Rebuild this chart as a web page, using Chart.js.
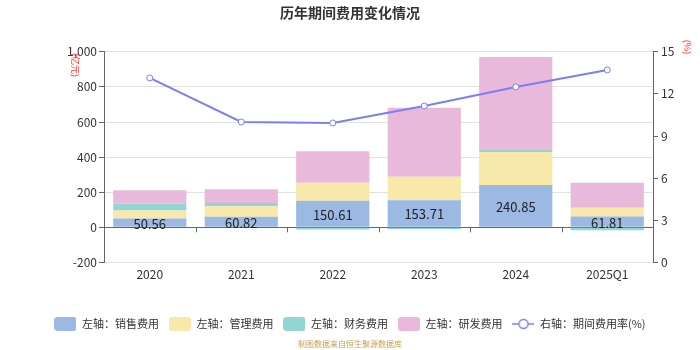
<!DOCTYPE html>
<html>
<head>
<meta charset="utf-8">
<script src="https://cdn.jsdelivr.net/npm/chart.js@4/dist/chart.umd.min.js"></script>
<style>
  html, body { margin: 0; padding: 0; background: #fff; }
  #wrap { width: 700px; height: 350px; }
</style>
</head>
<body>
<div id="wrap"><canvas id="feeChart" width="700" height="350"></canvas></div>
<script>
// 历年期间费用 (亿元) and 期间费用率 (%)
const years = ["2020", "2021", "2022", "2023", "2024", "2025Q1"];
const salesFee = [50.56, 60.82, 150.61, 153.71, 240.85, 61.81];
const adminFee = [45, 59, 103, 135, 188, 49];
const financeFee = [39, 19, -12, -11, 11, -17];
const rdFee = [76, 78, 180, 392, 530, 143];
const feeRate = [13.14, 10.0, 9.93, 11.14, 12.5, 13.71];
const leftTicks = [-200, 1000, 200];
const rightTicks = [0, 15, 3];

Chart.defaults.font.family = '"Microsoft YaHei", "Noto Sans CJK SC", sans-serif';
Chart.defaults.color = '#333';

// legend swatches
function swatch(color) {
  const c = document.createElement('canvas');
  c.width = 22; c.height = 14;
  const g = c.getContext('2d');
  g.fillStyle = color;
  g.beginPath();
  g.roundRect(0, 0, 22, 14, 3);
  g.fill();
  return c;
}
function lineSwatch(color) {
  const c = document.createElement('canvas');
  c.width = 22; c.height = 14;
  const g = c.getContext('2d');
  g.strokeStyle = color;
  g.lineWidth = 1.5;
  g.beginPath(); g.moveTo(0, 7); g.lineTo(22, 7); g.stroke();
  g.fillStyle = '#fff';
  g.beginPath(); g.arc(11, 7, 4.5, 0, Math.PI * 2); g.fill(); g.stroke();
  return c;
}

const extras = {
  id: 'extras',
  afterDatasetsDraw(chart) {
    const ctx = chart.ctx;
    const x = chart.scales.x, y = chart.scales.y;
    const y0 = y.getPixelForValue(0);
    ctx.save();
    // ticks on the zero line between categories
    ctx.strokeStyle = '#666';
    ctx.lineWidth = 1;
    for (let i = 0; i <= years.length; i++) {
      const px = Math.round(x.getPixelForValue(i - 0.5)) + 0.5;
      ctx.beginPath(); ctx.moveTo(px, y0); ctx.lineTo(px, y0 + 5); ctx.stroke();
    }
    // sales value labels
    ctx.fillStyle = '#222';
    ctx.font = '13px "Microsoft YaHei", "Noto Sans CJK SC", sans-serif';
    ctx.textAlign = 'center';
    ctx.textBaseline = 'middle';
    chart.getDatasetMeta(0).data.forEach((bar, i) => {
      ctx.fillText(salesFee[i].toFixed(2), bar.x, (bar.y + bar.base) / 2 + 1);
    });
    // unit labels
    ctx.fillStyle = '#ff3030';
    ctx.font = '9px "Microsoft YaHei", "Noto Sans CJK SC", sans-serif';
    ctx.translate(75, 65);
    ctx.rotate(Math.PI / 2);
    ctx.fillText('(亿元)', 0, 0);
    ctx.restore();
    ctx.save();
    ctx.fillStyle = '#ff3030';
    ctx.font = '9px "Microsoft YaHei", "Noto Sans CJK SC", sans-serif';
    ctx.textAlign = 'center';
    ctx.textBaseline = 'middle';
    ctx.translate(687, 47);
    ctx.rotate(Math.PI / 2);
    ctx.fillText('(%)', 0, 0);
    ctx.restore();
  }
};

const barBase = { type: 'bar', stack: 'fee', yAxisID: 'y', order: 1, borderWidth: 0,
  barPercentage: 0.8, categoryPercentage: 1.0 };

new Chart(document.getElementById('feeChart'), {
  data: {
    labels: years,
    datasets: [
      Object.assign({}, barBase, { label: '左轴：销售费用', data: salesFee, backgroundColor: '#9bb9e3', pointStyle: swatch('#9bb9e3') }),
      Object.assign({}, barBase, { label: '左轴：管理费用', data: adminFee, backgroundColor: '#f8e8a9', pointStyle: swatch('#f8e8a9') }),
      Object.assign({}, barBase, { label: '左轴：财务费用', data: financeFee, backgroundColor: '#92d6d4', pointStyle: swatch('#92d6d4') }),
      Object.assign({}, barBase, { label: '左轴：研发费用', data: rdFee, backgroundColor: '#e8b9da', pointStyle: swatch('#e8b9da') }),
      {
        type: 'line', label: '右轴：期间费用率(%)', data: feeRate, yAxisID: 'y1', order: 0,
        borderColor: '#7b7ff2', borderWidth: 2, pointRadius: 3, pointBorderWidth: 1,
        pointBackgroundColor: '#fff', pointBorderColor: '#7b7ff2', tension: 0,
        pointStyle: 'circle'
      }
    ]
  },
  options: {
    responsive: false,
    animation: false,
    layout: { padding: { left: 0, right: 0, top: 0, bottom: 0 } },
    plugins: {
      title: { display: true, text: '历年期间费用变化情况', color: '#333',
        font: { size: 14, weight: 'bold' }, padding: { top: 4, bottom: 31 } },
      subtitle: { display: true, position: 'bottom', text: '制图数据来自恒生聚源数据库',
        color: '#c9a24e', font: { size: 8 }, padding: { top: 0, bottom: 1 } },
      legend: {
        position: 'bottom',
        labels: {
          usePointStyle: true, pointStyleWidth: 22, boxHeight: 11,
          padding: 10, color: '#333', font: { size: 11 },
          sort: (a, b) => a.datasetIndex - b.datasetIndex,
          generateLabels(chart) {
            const items = Chart.defaults.plugins.legend.labels.generateLabels(chart);
            items.forEach(it => {
              it.pointStyle = it.datasetIndex === 4 ? lineSwatch('#7b7ff2')
                : chart.data.datasets[it.datasetIndex].pointStyle;
            });
            return items;
          }
        }
      },
      tooltip: { enabled: false }
    },
    scales: {
      x: {
        grid: { display: false, drawTicks: false },
        border: { display: false },
        ticks: { padding: 5, font: { size: 12 }, color: '#333' },
        afterFit(s) { s.height = 46; }
      },
      y: {
        position: 'left',
        min: leftTicks[0], max: leftTicks[1],
        ticks: { stepSize: leftTicks[2], padding: 2, font: { size: 12 }, color: '#333',
          callback: v => v.toLocaleString('en-US') },
        grid: { color: c => c.tick && c.tick.value === 0 ? '#666' : '#e2e2e2',
          tickLength: 5, tickColor: '#666' },
        border: { display: true, color: '#666' },
        afterFit(s) { s.width = 104; }
      },
      y1: {
        position: 'right',
        min: rightTicks[0], max: rightTicks[1],
        ticks: { stepSize: rightTicks[2], padding: 3, font: { size: 12 }, color: '#333' },
        grid: { drawOnChartArea: false, tickLength: 5, tickColor: '#666' },
        border: { display: true, color: '#666' },
        afterFit(s) { s.width = 47; }
      }
    }
  },
  plugins: [extras]
});
</script>
</body>
</html>
